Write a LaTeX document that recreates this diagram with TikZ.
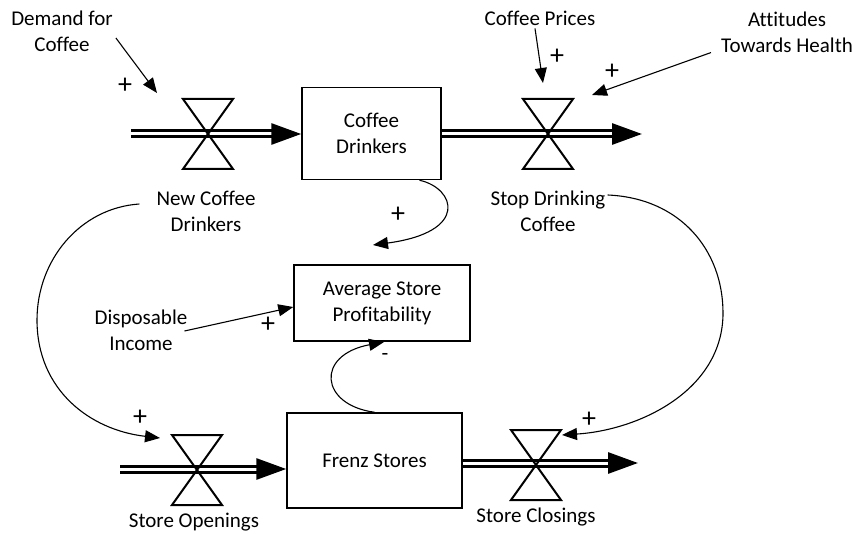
\documentclass[tikz,border=0pt]{standalone}
\usepackage{fontspec}
\setmainfont{Carlito}[Ligatures=NoCommon]
\usetikzlibrary{arrows.meta}

\tikzset{
    valve/.pic={
        \draw[line width=2pt, line join=miter] (-25,-35) -- (25,-35) -- (0,0) -- cycle;
        \draw[line width=2pt, line join=miter] (-25,35) -- (25,35) -- (0,0) -- cycle;
    }
}

\begin{document}
\begin{tikzpicture}[x=1pt, y=-1pt, font=\fontsize{21}{26}\selectfont,
    stock/.style={draw, line width=1.5pt, rectangle, align=center, inner sep=0pt},
    lbl/.style={align=center, inner sep=0pt},
    sign/.style={inner sep=0pt, font=\fontsize{28}{28}\selectfont},
    pipe/.style={double, double distance=3pt, line width=3pt, -{Triangle[length=30pt,width=21pt]}},
    link/.style={line width=1.1pt, -{Triangle[length=15pt,width=12pt]}}]
    \useasboundingbox (0,0) rectangle (861,534);

    % stocks
    \node[stock, minimum width=139pt, minimum height=92pt] (drinkers) at (371.5,133.5) {Coffee\\Drinkers};
    \node[stock, minimum width=176pt, minimum height=76pt] (profit) at (382,303) {Average Store\\Profitability};
    \node[stock, minimum width=175pt, minimum height=95pt] (stores) at (374.5,460.5) {Frenz Stores};

    % flow ends and valves
    \coordinate (srcA) at (131,134);
    \coordinate (sinkA) at (642,134);
    \coordinate (srcB) at (120,469);
    \coordinate (sinkB) at (638,463);
    \coordinate (newV) at (208,134);
    \coordinate (stopV) at (548,134);
    \coordinate (openV) at (197,470);
    \coordinate (closeV) at (536,465);

    \draw[pipe] (srcA) -- (srcA -| drinkers.west);
    \draw[pipe] (drinkers.east |- sinkA) -- (sinkA);
    \draw[pipe] (srcB) -- (srcB -| stores.west);
    \draw[pipe] (stores.east |- sinkB) -- (sinkB);

    \pic at (newV) {valve};
    \pic at (stopV) {valve};
    \pic at (openV) {valve};
    \pic at (closeV) {valve};

    % labels
    \node[lbl] (demand) at (62,31) {Demand for\\Coffee};
    \node[lbl] (prices) at (540,18) {Coffee Prices};
    \node[lbl] (attitudes) at (787,32) {At{}t{}i{}tudes\\Towards Health};
    \node[lbl] (newdrink) at (206,211) {New Coffee\\Drinkers};
    \node[lbl] (stopdrink) at (548,211) {Stop Drinking\\Coffee};
    \node[lbl] (income) at (141,330) {Disposable\\Income};
    \node[lbl] (openings) at (194,522) {Store Openings};
    \node[lbl] (closings) at (536,517) {Store Closings};

    % link ends
    \coordinate (demandTip) at (157,93);
    \coordinate (pricesTip) at (543,83);
    \coordinate (attTip) at (592,95);
    \coordinate (openTip) at (160,438);
    \coordinate (closeTip) at (562,435);

    % causal links
    \draw[link] (demand.east) ++(3,7) -- (demandTip);
    \draw[link] (prices.south) ++(-5,3) -- (pricesTip);
    \draw[link] (attitudes.south west) ++(-10,0) -- (attTip);
    \draw[link] (income.east) ++(-3,1) -- (profit.west |- 0,307);
    \draw[link] (drinkers.south) ++(48,0) .. controls (455,188) and (470,232) .. (373,245);
    \draw[link] (stores.north) ++(0,0) .. controls (320,405) and (315,355) .. (384,342);
    \draw[link] (newdrink.west) ++(-17,-7) .. controls (80,208) and (37,260) .. (37,320)
        .. controls (37,390) and (90,430) .. (openTip);
    \draw[link] (stopdrink.east) ++(2,-16) .. controls (680,198) and (723,250) .. (723,313)
        .. controls (723,390) and (640,430) .. (closeTip);

    % polarities
    \node[sign] (sDemand) at (125,86) {+};
    \node[sign] (sPrices) at (557,57) {+};
    \node[sign] (sAtt) at (612,72) {+};
    \node[sign] (sDrinkers) at (398,215) {+};
    \node[sign] (sIncome) at (268,325) {+};
    \node[sign, font=\fontsize{22}{22}\selectfont] (sStores) at (385,357) {-};
    \node[sign] (sOpen) at (140,418) {+};
    \node[sign] (sClose) at (589,420) {+};
\end{tikzpicture}
\end{document}
